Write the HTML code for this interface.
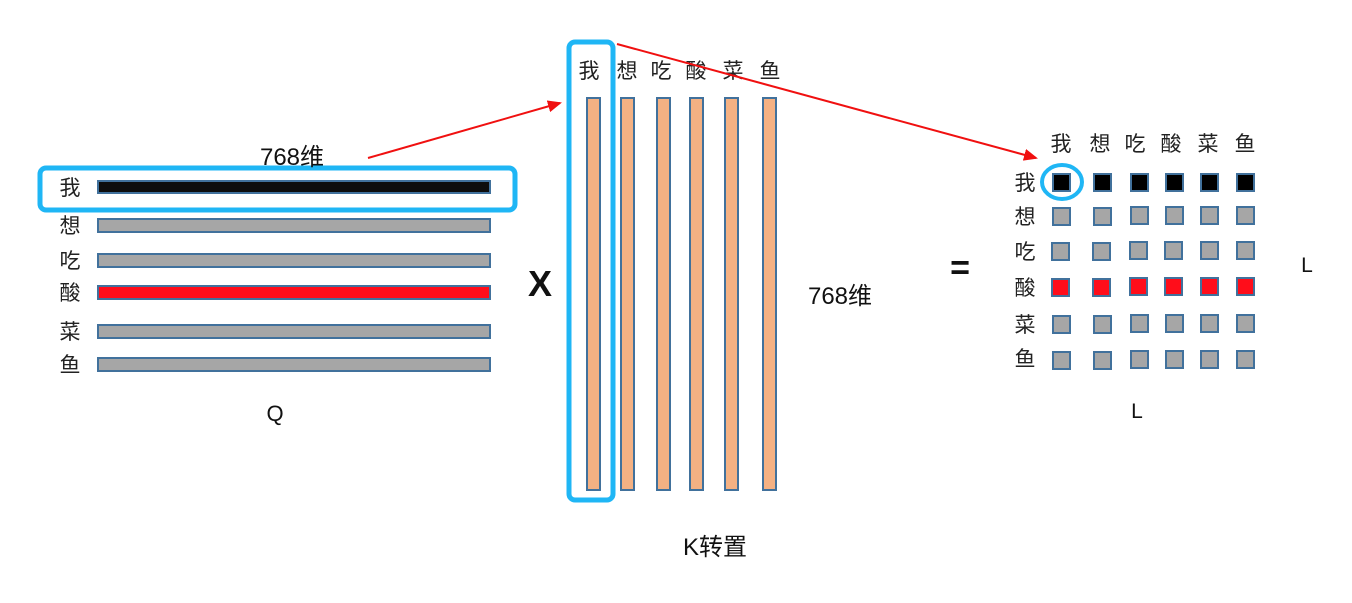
<!DOCTYPE html>
<html><head><meta charset="utf-8"><style>
body{margin:0;background:#fff;}
svg text{font-family:"Liberation Sans","Noto Sans CJK SC",sans-serif;}
.cj{font-family:"Noto Serif CJK SC","Noto Sans CJK SC",serif;}
</style></head><body>
<svg width="1352" height="598" viewBox="0 0 1352 598" xmlns="http://www.w3.org/2000/svg">
<defs><marker id="ah" markerWidth="10" markerHeight="10" refX="8" refY="5" orient="auto" markerUnits="userSpaceOnUse"><path d="M0,0 L10,5 L0,10 z" fill="#f01010"/></marker>
<marker id="ah2" markerWidth="14" markerHeight="12" refX="12" refY="6" orient="auto" markerUnits="userSpaceOnUse"><path d="M0,0 L14,6 L0,12 z" fill="#f01010"/></marker></defs>
<g stroke="#41719c" stroke-width="2">
<rect x="98" y="181" width="392" height="12" fill="#0d0d0d"/>
<rect x="98" y="219" width="392" height="13" fill="#a6a6a6"/>
<rect x="98" y="254" width="392" height="13" fill="#a6a6a6"/>
<rect x="98" y="286" width="392" height="13" fill="#ff0d1a"/>
<rect x="98" y="325" width="392" height="13" fill="#a6a6a6"/>
<rect x="98" y="358" width="392" height="13" fill="#a6a6a6"/>
</g>
<rect x="40" y="168" width="475" height="42" rx="6" fill="none" stroke="#1fb6f5" stroke-width="5"/>
<g class="cj" font-size="21" fill="#222" text-anchor="middle">
<text x="70" y="195">我</text><text x="70" y="233">想</text><text x="70" y="268">吃</text><text x="70" y="300">酸</text><text x="70" y="339">菜</text><text x="70" y="372">鱼</text>
</g>
<g stroke="#41719c" stroke-width="2" fill="#f4b183">
<rect x="587" y="98" width="13" height="392"/><rect x="621" y="98" width="13" height="392"/><rect x="657" y="98" width="13" height="392"/><rect x="690" y="98" width="13" height="392"/><rect x="725" y="98" width="13" height="392"/><rect x="763" y="98" width="13" height="392"/>
</g>
<rect x="569" y="42" width="44" height="458" rx="6" fill="none" stroke="#1fb6f5" stroke-width="5"/>
<g class="cj" font-size="21" fill="#222" text-anchor="middle">
<text x="589" y="78">我</text><text x="627" y="78">想</text><text x="661" y="78">吃</text><text x="696" y="78">酸</text><text x="733" y="78">菜</text><text x="770" y="78">鱼</text>
</g>
<line x1="368" y1="158" x2="560" y2="103" stroke="#f01010" stroke-width="2" marker-end="url(#ah2)"/>
<line x1="617" y1="44" x2="1036" y2="158" stroke="#f01010" stroke-width="2" marker-end="url(#ah2)"/>
<g class="cj" font-size="21" fill="#222" text-anchor="middle">
<text x="1061" y="151">我</text><text x="1100" y="151">想</text><text x="1135" y="151">吃</text><text x="1171" y="151">酸</text><text x="1208" y="151">菜</text><text x="1245" y="151">鱼</text>
<text x="1025" y="190">我</text><text x="1025" y="224">想</text><text x="1025" y="259">吃</text><text x="1025" y="295">酸</text><text x="1025" y="332">菜</text><text x="1025" y="366">鱼</text>
</g>
<g stroke="#41719c" stroke-width="2">
<g fill="#000"><rect x="1053" y="174" width="17" height="17"/><rect x="1094" y="174" width="17" height="17"/><rect x="1131" y="174" width="17" height="17"/><rect x="1166" y="174" width="17" height="17"/><rect x="1201" y="174" width="17" height="17"/><rect x="1237" y="174" width="17" height="17"/></g>
<g fill="#a6a6a6"><rect x="1053" y="208" width="17" height="17"/><rect x="1094" y="208" width="17" height="17"/><rect x="1131" y="207" width="17" height="17"/><rect x="1166" y="207" width="17" height="17"/><rect x="1201" y="207" width="17" height="17"/><rect x="1237" y="207" width="17" height="17"/>
<rect x="1052" y="243" width="17" height="17"/><rect x="1093" y="243" width="17" height="17"/><rect x="1130" y="242" width="17" height="17"/><rect x="1165" y="242" width="17" height="17"/><rect x="1201" y="242" width="17" height="17"/><rect x="1237" y="242" width="17" height="17"/>
<rect x="1053" y="316" width="17" height="17"/><rect x="1094" y="316" width="17" height="17"/><rect x="1131" y="315" width="17" height="17"/><rect x="1166" y="315" width="17" height="17"/><rect x="1201" y="315" width="17" height="17"/><rect x="1237" y="315" width="17" height="17"/>
<rect x="1053" y="352" width="17" height="17"/><rect x="1094" y="352" width="17" height="17"/><rect x="1131" y="351" width="17" height="17"/><rect x="1166" y="351" width="17" height="17"/><rect x="1201" y="351" width="17" height="17"/><rect x="1237" y="351" width="17" height="17"/></g>
<g fill="#ff0d1a"><rect x="1052" y="279" width="17" height="17"/><rect x="1093" y="279" width="17" height="17"/><rect x="1130" y="278" width="17" height="17"/><rect x="1165" y="278" width="17" height="17"/><rect x="1201" y="278" width="17" height="17"/><rect x="1237" y="278" width="17" height="17"/></g>
</g>
<ellipse cx="1062" cy="182" rx="20" ry="17" fill="none" stroke="#1fb6f5" stroke-width="4"/>
<g fill="#111" text-anchor="middle">
<text x="292" y="165" font-size="24">768维</text>
<text x="540" y="296" font-size="36" font-weight="bold">X</text>
<text x="840" y="304" font-size="24">768维</text>
<text x="960" y="279" font-size="34" font-weight="bold">=</text>
<text x="1307" y="272" font-size="21">L</text>
<text x="1137" y="418" font-size="21">L</text>
<text x="275" y="421" font-size="22">Q</text>
<text x="715" y="555" font-size="24">K转置</text>
</g>
</svg>
</body></html>
